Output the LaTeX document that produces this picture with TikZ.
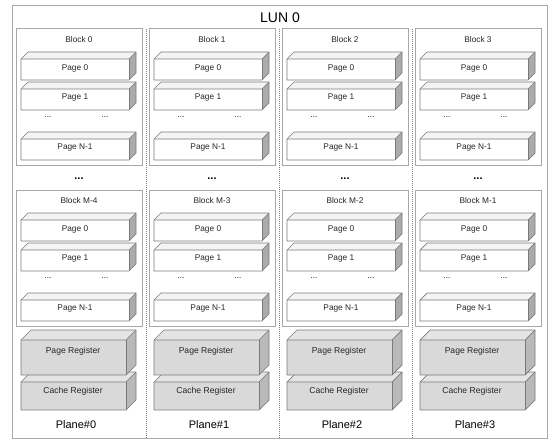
\documentclass[tikz,border=0pt]{standalone}
\usepackage{fontspec}
\setmainfont{Liberation Sans}
\definecolor{edge}{HTML}{7A7A7A}
\definecolor{pgside}{HTML}{ABABAB}
\definecolor{pgtop}{HTML}{F4F4F4}
\definecolor{regfront}{HTML}{D9D9D9}
\definecolor{regtop}{HTML}{E4E4E4}
\definecolor{regside}{HTML}{B9B9B9}
\definecolor{frame}{HTML}{A8A8A8}
\tikzset{
  boxline/.style={draw=edge, line width=0.7pt, line join=round},
  blockbox/.style={draw=frame, line width=1pt},
  sep/.style={draw=gray, line width=0.8pt, dash pattern=on 1pt off 1pt},
  lbl/.style={font=\fontsize{8.3}{9}\selectfont, text=black!85, inner sep=0pt},
  reglbl/.style={font=\fontsize{8.6}{10}\selectfont, text=black!85, inner sep=0pt},
  dotlbl/.style={font=\fontsize{8}{9}\selectfont, inner sep=0pt},
  bigdots/.style={font=\bfseries\fontsize{11}{12}\selectfont, inner sep=0pt},
}
% #1 x, #2 y (front top-left), #3 w, #4 h, #5 depth, #6 front, #7 top, #8 side
\newcommand\threedbox[8]{%
  \fill[#6] (#1,#2) rectangle ++(#3,#4);
  \fill[#7] (#1,#2) -- ++(#5,-#5) -- ++(#3,0) -- ++(-#5,#5) -- cycle;
  \fill[#8] (#1+#3,#2) -- ++(#5,-#5) -- ++(0,#4) -- ++(-#5,#5) -- cycle;
  \draw[boxline] (#1,#2+#4) -- (#1,#2) -- ++(#5,-#5) -- ++(#3,0) -- ++(0,#4) -- ++(-#5,#5) -- cycle;
  \draw[boxline] (#1,#2) -- ++(#3,0) -- ++(#5,-#5);
  \draw[boxline] (#1+#3,#2) -- ++(0,#4);
}
\begin{document}
\begin{tikzpicture}[x=1pt,y=-1pt]
\useasboundingbox (0,0) rectangle (560,444);
\fill[white] (0,0) rectangle (560,444);
% outer LUN frame
\draw[blockbox] (12,6) rectangle (547,438);
\node[font=\fontsize{14}{16}\selectfont, inner sep=0pt] (lun) at (280,18) {LUN 0};
% plane separators
\foreach \k in {0,1,2} {
  \pgfmathsetmacro\xs{146+133*\k}
  \coordinate (st\k) at (\xs,29);
  \coordinate (sb\k) at (\xs,438);
  \draw[sep] (st\k) -- (sb\k);
}
\foreach \k in {0,...,3} {
  \pgfmathsetmacro\xo{16+133*\k}
  \pgfmathsetmacro\xp{\xo+5}
  \pgfmathsetmacro\xc{\xo+63}
  \pgfmathsetmacro\xf{\xo+59}
  \pgfmathsetmacro\xr{\xo+57}
  \pgfmathtruncatemacro\m{4-\k}
  % upper block
  \draw[blockbox] (\xo,29) rectangle ++(126,136);
  \node[lbl] (bA\k) at (\xc,40) {Block \k};
  \threedbox{\xp}{59}{108}{21}{7}{white}{pgtop}{pgside}
  \node[lbl] (pA0\k) at (\xf,68) {Page 0};
  \threedbox{\xp}{89}{108}{21}{7}{white}{pgtop}{pgside}
  \node[lbl] (pA1\k) at (\xf,98) {Page 1};
  \node[dotlbl] (dAl\k) at (\xo+32,117) {...};
  \node[dotlbl] (dAr\k) at (\xo+89,117) {...};
  \threedbox{\xp}{139}{108}{21}{7}{white}{pgtop}{pgside}
  \node[lbl] (pAN\k) at (\xf,148) {Page N-1};
  % dots between blocks
  \node[bigdots] (mid\k) at (\xc,179) {...};
  % lower block
  \draw[blockbox] (\xo,190) rectangle ++(126,136);
  \node[lbl] (bB\k) at (\xc,201) {Block M-\m};
  \threedbox{\xp}{220}{108}{21}{7}{white}{pgtop}{pgside}
  \node[lbl] (pB0\k) at (\xf,229) {Page 0};
  \threedbox{\xp}{250}{108}{21}{7}{white}{pgtop}{pgside}
  \node[lbl] (pB1\k) at (\xf,259) {Page 1};
  \node[dotlbl] (dBl\k) at (\xo+32,278) {...};
  \node[dotlbl] (dBr\k) at (\xo+89,278) {...};
  \threedbox{\xp}{300}{108}{21}{7}{white}{pgtop}{pgside}
  \node[lbl] (pBN\k) at (\xf,309) {Page N-1};
  % registers
  \threedbox{\xp}{382}{105}{28}{10}{regfront}{regtop}{regside}
  \threedbox{\xp}{340}{105}{35}{10}{regfront}{regtop}{regside}
  \node[reglbl] (pr\k) at (\xr,351) {Page Register};
  \node[reglbl] (cr\k) at (\xr,391) {Cache Register};
  \node[font=\fontsize{11}{12}\selectfont, inner sep=0pt] (pl\k) at (\xc-3,425) {Plane\#\k};
}
\end{tikzpicture}
\end{document}
